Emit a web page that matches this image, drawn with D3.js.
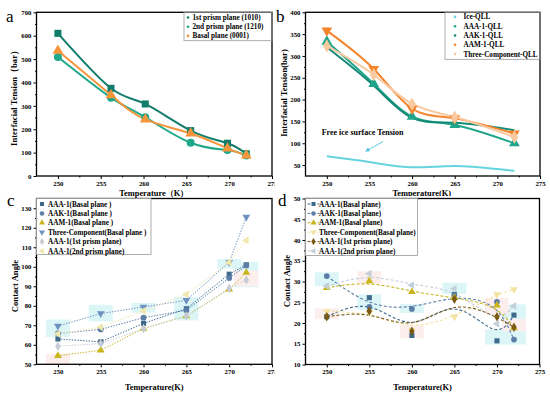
<!DOCTYPE html>
<html>
<head>
<meta charset="utf-8">
<script src="https://cdn.jsdelivr.net/npm/d3@7"></script>
<style>
  body { margin: 0; background: #fff; }
  svg { font-family: "Liberation Serif", "Times New Roman", serif; font-weight: bold; }
</style>
</head>
<body>
<svg id="chart" width="550" height="396"></svg>
<script>
// ---- panel a : interfacial tension of ice planes
var tempA = [250, 256.2, 260.2, 265.5, 269.8, 272];
var prism1A = [610, 375, 308, 194, 140, 95];
var prism2A = [509, 335, 251, 142, 111, 88];
var basalA = [536, 346, 242, 182, 118, 88];

// ---- panel b : QLL interfacial tension
var tempB = [250, 255.5, 260, 265, 272];
var tempIce = [250, 255, 260, 265, 270, 272];
var iceQLL = [70, 57, 45, 48, 41, 37];
var aaaQLL = [333, 236, 161, 142, 100];
var aakQLL = [320, 232, 158, 147, 130];
var aamQLL = [358, 270, 179, 157, 122];
var threeQLL = [323, 257, 190, 160, 114];

// ---- panel c : contact angle (basal / prism)
var tempC = [250, 255, 260, 265, 270, 272];
var aaaBasalC = [63, 61.5, 71, 78.5, 96.2, 101];
var aakBasalC = [65.8, 67.9, 73.9, 77.7, 94.2, 100.6];
var aamBasalC = [54.4, 57.2, 68.4, 74.8, 88.5, 97];
var threeBasalC = [69.6, 76, 79.4, 82.8, 102.3, 125.5];
var prism1C = [59.3, 60.6, 68.2, 74.8, 89, 93.2];
var prism2C = [65.6, 69, 77.4, 85.9, 102.3, 113.5];
var cyanLoC = [64, 72, 76.5, 72.5, 99, 89.5];
var cyanHiC = [73, 80.5, 81.5, 84.5, 104, 102.5];
var pinkLoC = [50, null, null, null, null, 90];
var pinkHiC = [55.5, null, null, null, null, 98];

// ---- panel d : contact angle
var tempD = [250, 255, 260, 265, 270, 272];
var aaaBasalD = [21.5, 26.1, 17.0, 26.9, 15.7, 21.9];
var aakBasalD = [31.3, 23.9, 23.4, 26.7, 25.1, 16.0];
var aamBasalD = [28.5, 30.1, 27.5, 26.1, 24.3, 18.8];
var threeBasalD = [22.8, 22.5, 18.3, 21.5, 26.9, 28.1];
var prism1D = [21.5, 22.9, 18.0, 25.7, 21.5, 19.0];
var prism2D = [28.9, 31.9, 29.1, 28.3, 19.8, 24.1];
var cyanLoD = [28.9, 23.2, 22.4, 27, 14.8, 14.8];
var cyanHiD = [32.2, 26.9, 24.6, 29.7, 18.4, 24.5];
var pinkLoD = [20.9, 29.5, 16.3, null, 22, 18];
var pinkHiD = [23.5, 32.5, 19.5, null, 26, 21];

var xTicks = [250, 255, 260, 265, 270, 275];
var xMinor = [252.5, 257.5, 262.5, 267.5, 272.5];

var svg = d3.select('#chart');

function symbolPath(shape, size) {
  var types = { square: d3.symbolSquare, circle: d3.symbolCircle, up: d3.symbolTriangle,
    down: d3.symbolTriangle, left: d3.symbolTriangle, diamond: d3.symbolDiamond };
  return d3.symbol().type(types[shape]).size(size)();
}
function symbolRot(shape) {
  return shape === 'down' ? 180 : shape === 'left' ? -90 : 0;
}

function drawPanel(p) {
  var g = svg.append('g');
  if (p.whiteBg) {
    g.append('rect').attr('x', p.whiteBg[0]).attr('y', p.whiteBg[1])
      .attr('width', p.whiteBg[2]).attr('height', p.whiteBg[3]).attr('fill', '#fff');
  }
  var x = d3.scaleLinear().domain([247.5, 275]).range([p.left, p.right]);
  var y = d3.scaleLinear().domain(p.yDomain).range([p.bottom, p.top]);

  // shaded error bands
  (p.bands || []).forEach(function (b) {
    b.x.forEach(function (t, i) {
      if (b.lo[i] == null) return;
      g.append('rect')
        .attr('x', x(t - 1.4)).attr('width', x(t + 1.4) - x(t - 1.4))
        .attr('y', y(b.hi[i])).attr('height', y(b.lo[i]) - y(b.hi[i]))
        .attr('fill', b.color);
    });
  });

  var line = d3.line().curve(p.curve)
    .x(function (d) { return x(d[0]); })
    .y(function (d) { return y(d[1]); });

  p.series.forEach(function (s) {
    var pts = s.x.map(function (t, i) { return [t, s.y[i]]; });
    g.append('path').datum(pts).attr('d', line)
      .attr('fill', 'none').attr('stroke', s.color)
      .attr('stroke-width', p.lineWidth)
      .attr('stroke-dasharray', p.dash || null);
  });
  p.series.forEach(function (s) {
    if (!s.shape) return;
    s.x.forEach(function (t, i) {
      g.append('path').attr('d', symbolPath(s.shape, p.markerSize))
        .attr('transform', 'translate(' + x(t) + ',' + y(s.y[i]) + ') rotate(' + symbolRot(s.shape) + ')')
        .attr('fill', s.color);
    });
  });

  // axes
  function styleAxis(a) {
    a.select('.domain').remove();
    a.attr('font-family', null).attr('font-size', 6.8).attr('font-weight', 'bold');
    a.selectAll('line').attr('stroke-width', 1);
  }
  g.append('g').attr('transform', 'translate(0,' + p.bottom + ')')
    .call(d3.axisBottom(x).tickValues(xTicks).tickSize(3).tickPadding(2).tickFormat(d3.format('d')))
    .call(styleAxis);
  g.append('g').attr('transform', 'translate(0,' + p.bottom + ')')
    .call(d3.axisBottom(x).tickValues(xMinor).tickSize(1.5).tickFormat(''))
    .call(styleAxis);
  g.append('g').attr('transform', 'translate(' + p.left + ',0)')
    .call(d3.axisLeft(y).tickValues(p.yTicks).tickSize(3).tickPadding(2).tickFormat(d3.format('d')))
    .call(styleAxis);
  g.append('g').attr('transform', 'translate(' + p.left + ',0)')
    .call(d3.axisLeft(y).tickValues(p.yMinor).tickSize(1.5).tickFormat(''))
    .call(styleAxis);

  g.append('rect').attr('x', p.left).attr('y', p.top)
    .attr('width', p.right - p.left).attr('height', p.bottom - p.top)
    .attr('fill', 'none').attr('stroke', '#000').attr('stroke-width', 1.3);

  // legend
  var L = p.legend;
  g.append('rect').attr('x', L.x).attr('y', L.y).attr('width', L.w).attr('height', L.h)
    .attr('fill', '#fff').attr('fill-opacity', L.opaque ? 1 : 0)
    .attr('stroke', '#999').attr('stroke-width', 0.8);
  p.series.forEach(function (s, i) {
    var cy = L.y + L.first + i * L.step;
    if (L.lines) {
      g.append('line').attr('x1', L.markerX - 6).attr('x2', L.markerX + 6)
        .attr('y1', cy).attr('y2', cy).attr('stroke', s.color)
        .attr('stroke-width', 1).attr('stroke-dasharray', p.dash || null);
    }
    if (L.dotOnly || !s.shape) {
      g.append('circle').attr('cx', L.markerX).attr('cy', cy).attr('r', 1.3).attr('fill', s.color);
    } else {
      g.append('path').attr('d', symbolPath(s.shape, 16))
        .attr('transform', 'translate(' + L.markerX + ',' + cy + ') rotate(' + symbolRot(s.shape) + ')')
        .attr('fill', s.color);
    }
    g.append('text').attr('x', L.textX).attr('y', cy).attr('dy', '0.35em')
      .attr('font-size', 7.2).text(s.name);
  });

  // titles
  g.append('text').attr('x', (p.left + p.right) / 2 + p.xTitleShift).attr('y', p.xTitleY)
    .attr('text-anchor', 'middle').attr('font-size', 8.4).text(p.xTitle);
  g.append('text').attr('transform', 'translate(' + p.yTitleX + ',' + p.yTitleY + ') rotate(-90)')
    .attr('text-anchor', 'middle').attr('dy', '0.35em').attr('font-size', 8.6).text(p.yTitle);
  g.append('text').attr('x', p.letter[0]).attr('y', p.letter[1])
    .attr('font-size', 17).attr('font-weight', 'normal').text(p.letter[2]);
  return { g: g, x: x, y: y };
}

// panel a
drawPanel({
  left: 36.5, right: 272, top: 12.3, bottom: 176,
  yDomain: [0, 700], yTicks: d3.range(0, 701, 100), yMinor: d3.range(50, 700, 100),
  curve: d3.curveNatural, lineWidth: 2, markerSize: 50,
  series: [
    { name: '1st prism plane (1010)', x: tempA, y: prism1A, color: '#137d6c', shape: 'square' },
    { name: '2nd prism plane (1210)', x: tempA, y: prism2A, color: '#1ea98b', shape: 'circle' },
    { name: 'Basal plane (0001)', x: tempA, y: basalA, color: '#f7953a', shape: 'up' }
  ],
  legend: { x: 184, y: 12.3, w: 88, h: 28.4, first: 5.2, step: 9.2, markerX: 188, textX: 192.5, dotOnly: true },
  xTitle: 'Temperature（K）', xTitleY: 196, xTitleShift: -0.5,
  yTitle: 'Interfacial Tension（bar）', yTitleX: 13.5, yTitleY: 96,
  letter: [6, 22, 'a']
});

// panel c
drawPanel({
  left: 36.5, right: 272, top: 198.5, bottom: 364.3,
  yDomain: [50, 135], yTicks: d3.range(50, 131, 10), yMinor: d3.range(55, 135, 10),
  curve: d3.curveLinear, lineWidth: 1, markerSize: 26, dash: '1.4,1.4',
  bands: [
    { x: tempC, lo: cyanLoC, hi: cyanHiC, color: '#dcf6f8' },
    { x: tempC, lo: pinkLoC, hi: pinkHiC, color: '#fdeeee' }
  ],
  series: [
    { name: 'AAA-1(Basal plane )', x: tempC, y: aaaBasalC, color: '#3d6a8c', shape: 'square' },
    { name: 'AAK-1(Basal plane )', x: tempC, y: aakBasalC, color: '#5b7da6', shape: 'circle' },
    { name: 'AAM-1(Basal plane )', x: tempC, y: aamBasalC, color: '#c8b51c', shape: 'up' },
    { name: 'Three-Component(Basal plane )', x: tempC, y: threeBasalC, color: '#6f92bf', shape: 'down' },
    { name: 'AAA-1(1st prism plane)', x: tempC, y: prism1C, color: '#c7ccd4', shape: 'diamond' },
    { name: 'AAA-1(2nd prism plane)', x: tempC, y: prism2C, color: '#f1e7ac', shape: 'left' }
  ],
  legend: { x: 36.5, y: 198.5, w: 114.5, h: 56, first: 5.5, step: 9.4, markerX: 42, textX: 48, opaque: true },
  xTitle: 'Temperature(K)', xTitleY: 389.5, xTitleShift: 0,
  yTitle: 'Contact Angle', yTitleX: 15, yTitleY: 286,
  letter: [7, 206, 'c']
});

// panel b
var pb = drawPanel({
  whiteBg: [275, 0, 275, 198],
  left: 305.5, right: 540, top: 12.3, bottom: 176,
  yDomain: [25, 400], yTicks: d3.range(50, 401, 50), yMinor: d3.range(75, 400, 50),
  curve: d3.curveNatural, lineWidth: 2, markerSize: 50,
  series: [
    { name: 'Ice-QLL', x: tempIce, y: iceQLL, color: '#66d4de', shape: null },
    { name: 'AAA-1-QLL', x: tempB, y: aaaQLL, color: '#1fa58a', shape: 'up' },
    { name: 'AAK-1-QLL', x: tempB, y: aakQLL, color: '#148a76', shape: null },
    { name: 'AAM-1-QLL', x: tempB, y: aamQLL, color: '#f5852c', shape: 'down' },
    { name: 'Three-Component-QLL', x: tempB, y: threeQLL, color: '#f9c9a0', shape: 'diamond' }
  ],
  legend: { x: 445, y: 12.3, w: 95, h: 47, first: 4.6, step: 9.3, markerX: 455, textX: 463.5, dotOnly: true },
  xTitle: 'Temperature(K)', xTitleY: 196, xTitleShift: -1,
  yTitle: 'Interfacial Tension(bar)', yTitleX: 283.5, yTitleY: 93,
  letter: [276, 22, 'b']
});

// annotation in panel b
var noteAt = [249.4, 119];
var arrowFrom = [256.6, 104];
var arrowTo = [254.6, 82];
pb.g.append('text').attr('x', pb.x(noteAt[0])).attr('y', pb.y(noteAt[1]))
  .attr('font-size', 8).text('Free ice surface Tension');
pb.g.append('defs').append('marker').attr('id', 'arr').attr('viewBox', '0 0 10 10')
  .attr('refX', 8).attr('refY', 5).attr('markerWidth', 5).attr('markerHeight', 5)
  .attr('orient', 'auto').append('path').attr('d', 'M0,0L10,5L0,10z').attr('fill', '#4cc6da');
pb.g.append('line')
  .attr('x1', pb.x(arrowFrom[0])).attr('y1', pb.y(arrowFrom[1]))
  .attr('x2', pb.x(arrowTo[0])).attr('y2', pb.y(arrowTo[1]))
  .attr('stroke', '#4cc6da').attr('stroke-width', 0.9).attr('marker-end', 'url(#arr)');

// panel d
drawPanel({
  whiteBg: [275, 196, 275, 200],
  left: 305.5, right: 539.5, top: 198.5, bottom: 364.5,
  yDomain: [10, 50], yTicks: d3.range(10, 51, 5), yMinor: d3.range(12.5, 50, 5),
  curve: d3.curveBasis, lineWidth: 1.1, markerSize: 26, dash: '3,2',
  bands: [
    { x: tempD, lo: cyanLoD, hi: cyanHiD, color: '#dcf6f8' },
    { x: tempD, lo: pinkLoD, hi: pinkHiD, color: '#fdeeee' }
  ],
  series: [
    { name: 'AAA-1(Basal plane)', x: tempD, y: aaaBasalD, color: '#3d6a8c', shape: 'square' },
    { name: 'AAK-1(Basal plane)', x: tempD, y: aakBasalD, color: '#5b7da6', shape: 'circle' },
    { name: 'AAM-1(Basal plane)', x: tempD, y: aamBasalD, color: '#c8b51c', shape: 'up' },
    { name: 'Three-Component(Basal plane)', x: tempD, y: threeBasalD, color: '#f3e3a0', shape: 'down' },
    { name: 'AAA-1(1st prism plane)', x: tempD, y: prism1D, color: '#7b5a14', shape: 'diamond' },
    { name: 'AAA-1(2nd prism plane)', x: tempD, y: prism2D, color: '#c3cfdb', shape: 'left' }
  ],
  legend: { x: 305.5, y: 198.5, w: 112, h: 57, first: 5.5, step: 9.4, markerX: 313.5, textX: 319, lines: true, opaque: true },
  xTitle: 'Temperature(K)', xTitleY: 389.5, xTitleShift: 0,
  yTitle: 'Contact Angle', yTitleX: 286.5, yTitleY: 281,
  letter: [278, 206, 'd']
});
</script>
</body>
</html>
